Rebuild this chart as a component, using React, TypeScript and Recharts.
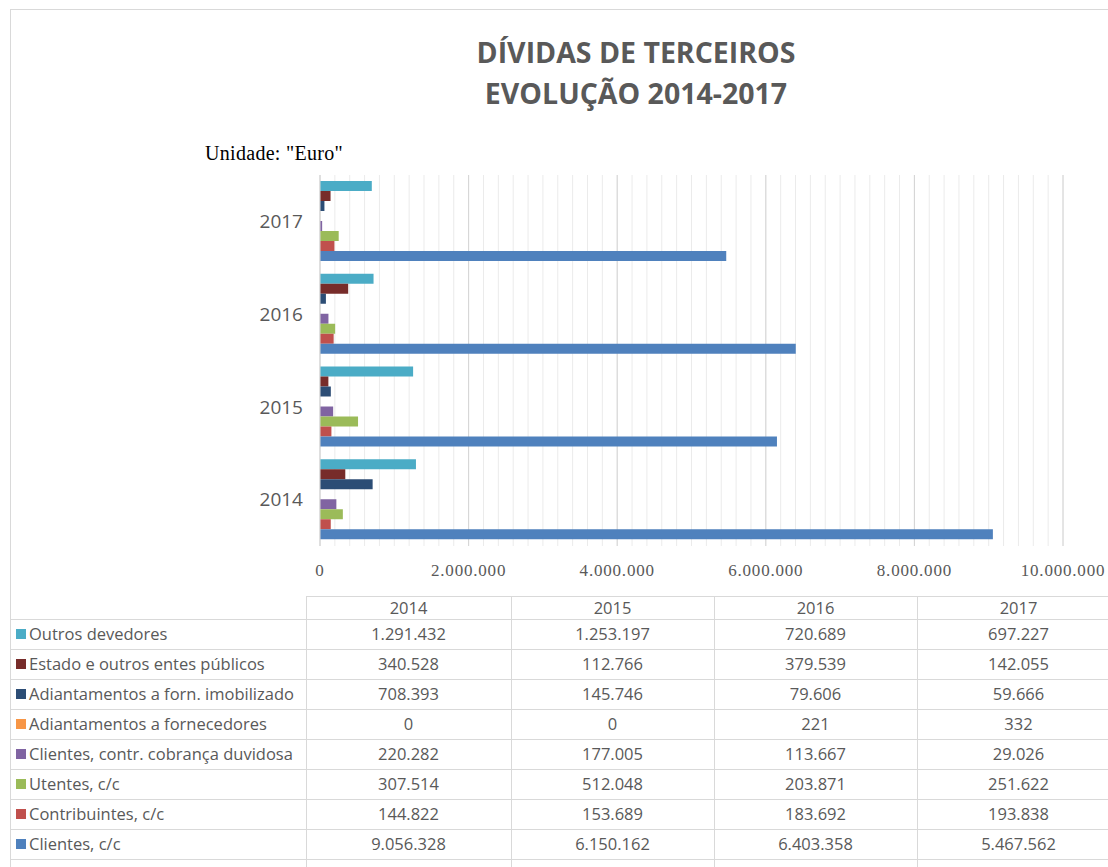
import React from "react";
import { BarChart, Bar, XAxis, YAxis, CartesianGrid } from "recharts";

const years = ["2014", "2015", "2016", "2017"];
const outrosDevedores = [1291432, 1253197, 720689, 697227];
const estado = [340528, 112766, 379539, 142055];
const adiantImob = [708393, 145746, 79606, 59666];
const adiantForn = [0, 0, 221, 332];
const clientesDuvidosa = [220282, 177005, 113667, 29026];
const utentes = [307514, 512048, 203871, 251622];
const contribuintes = [144822, 153689, 183692, 193838];
const clientes = [9056328, 6150162, 6403358, 5467562];

const xMax = 10000000;
const xTicks = [0, 2000000, 4000000, 6000000, 8000000, 10000000];
const minorStep = 200000;

const series = [
  { key: "outros", name: "Outros devedores", values: outrosDevedores, color: "#4BACC6" },
  { key: "estado", name: "Estado e outros entes públicos", values: estado, color: "#772C2A" },
  { key: "imob", name: "Adiantamentos a forn. imobilizado", values: adiantImob, color: "#2C4D75" },
  { key: "forn", name: "Adiantamentos a fornecedores", values: adiantForn, color: "#F79646" },
  { key: "duv", name: "Clientes, contr. cobrança duvidosa", values: clientesDuvidosa, color: "#8064A2" },
  { key: "utentes", name: "Utentes, c/c", values: utentes, color: "#9BBB59" },
  { key: "contrib", name: "Contribuintes, c/c", values: contribuintes, color: "#C0504D" },
  { key: "clientes", name: "Clientes, c/c", values: clientes, color: "#4F81BD" },
];

// chart categories top to bottom: 2017 ... 2014
const chartData = [...years]
  .map((y, i) => {
    const row: any = { year: y };
    series.forEach((s) => (row[s.key] = s.values[i]));
    return row;
  })
  .reverse();

const minorTicks = Array.from({ length: xMax / minorStep + 1 }, (_, i) => i * minorStep);

const fmt = (v: number) => String(v).replace(/\B(?=(\d{3})+(?!\d))/g, ".");

const minorGridGenerator = ({ xAxis, offset }: any) => {
  const sc = xAxis && xAxis.scale;
  const f =
    typeof sc === "function"
      ? (v: number) => sc(v)
      : sc && typeof sc.map === "function"
      ? (v: number) => sc.map(v)
      : (v: number) => offset.left + (v / xMax) * offset.width;
  return minorTicks.map(f);
};

const GRAY = "#595959";
const LINE = "#d9d9d9";

const colEdges = [10, 306, 511, 714, 917, 1120];
const headerTop = 596;
const headerH = 23;
const rowH = 30;
const TFONT = 16.5;

export default function App() {
  return (
    <div style={{ position: "relative", width: 1108, height: 867, overflow: "hidden", background: "#fff" }}>
      <style>{`body{margin:0;}`}</style>
      <div style={{ position: "absolute", left: 10, top: 9, width: 1200, height: 900, borderLeft: `1px solid ${LINE}`, borderTop: `1px solid ${LINE}` }} />
      <div
        style={{
          position: "absolute",
          left: 336,
          top: 32,
          width: 600,
          textAlign: "center",
          fontFamily: "'Open Sans', sans-serif",
          fontWeight: 700,
          fontSize: 28.5,
          lineHeight: "41px",
          color: GRAY,
        }}
      >
        <div>DÍVIDAS DE TERCEIROS</div>
        <div>EVOLUÇÃO 2014-2017</div>
      </div>
      <div
        style={{
          position: "absolute",
          left: 205,
          top: 142,
          fontFamily: "'Liberation Serif', 'Times New Roman', serif",
          fontSize: 20,
          letterSpacing: 0.3,
          color: "#000",
          whiteSpace: "nowrap",
        }}
      >
        Unidade: "Euro"
      </div>
      <div style={{ position: "absolute", left: 0, top: 0 }}>
        <BarChart
          width={1108}
          height={600}
          data={chartData}
          layout="vertical"
          margin={{ top: 175, right: 45, bottom: 24, left: 260 }}
          barGap={0}
          barCategoryGap={6}
        >
          <CartesianGrid horizontal={false} stroke="#ebebeb" verticalCoordinatesGenerator={minorGridGenerator} />
          <CartesianGrid horizontal={false} stroke="#d4d4d4" />
          <XAxis
            type="number"
            domain={[0, xMax]}
            ticks={xTicks}
            tickFormatter={fmt}
            axisLine={false}
            tickLine={false}
            tickMargin={12}
            height={30}
            tick={{ fill: GRAY, fontSize: 17, fontFamily: "'Liberation Serif', serif", letterSpacing: 0.8 }}
          />
          <YAxis
            type="category"
            dataKey="year"
            width={60}
            axisLine={{ stroke: LINE }}
            tickLine={false}
            tickMargin={11}
            tick={{ fill: GRAY, fontSize: 19, fontFamily: "'Open Sans', sans-serif" }}
          />
          {series.map((s) => (
            <Bar key={s.key} dataKey={s.key} name={s.name} fill={s.color} barSize={10} isAnimationActive={false} />
          ))}
        </BarChart>
      </div>
      <div style={{ position: "absolute", left: 0, top: 0, fontFamily: "'Open Sans', sans-serif", color: GRAY }}>
        <div style={{ position: "absolute", left: colEdges[1], top: headerTop, width: 900, borderTop: `1px solid ${LINE}` }} />
        {colEdges.slice(1, 5).map((x, i) => (
          <div key={"v" + i} style={{ position: "absolute", left: x, top: headerTop, height: 867 - headerTop, borderLeft: `1px solid ${LINE}` }} />
        ))}
        {series.concat([null as any]).map((_, i) => (
          <div key={"h" + i} style={{ position: "absolute", left: 10, top: headerTop + headerH + i * rowH, width: 1110, borderTop: `1px solid ${LINE}` }} />
        ))}
        {years.map((y, j) => (
          <div
            key={"hd" + y}
            style={{
              position: "absolute",
              left: colEdges[j + 1],
              width: colEdges[j + 2] - colEdges[j + 1],
              top: headerTop,
              height: headerH,
              lineHeight: headerH + "px",
              textAlign: "center",
              fontSize: TFONT,
            }}
          >
            {y}
          </div>
        ))}
        {series.map((s, i) => (
          <React.Fragment key={"r" + s.key}>
            <div
              style={{
                position: "absolute",
                left: 16,
                top: headerTop + headerH + i * rowH,
                height: rowH,
                lineHeight: rowH + "px",
                fontSize: TFONT,
                whiteSpace: "nowrap",
                display: "flex",
                alignItems: "center",
              }}
            >
              <span style={{ display: "inline-block", width: 10, height: 10, background: s.color, marginRight: 3 }} />
              <span>{s.name}</span>
            </div>
            {s.values.map((v, j) => (
              <div
                key={"c" + j}
                style={{
                  position: "absolute",
                  left: colEdges[j + 1],
                  width: colEdges[j + 2] - colEdges[j + 1],
                  top: headerTop + headerH + i * rowH,
                  height: rowH,
                  lineHeight: rowH + "px",
                  textAlign: "center",
                  fontSize: TFONT,
                }}
              >
                {fmt(v)}
              </div>
            ))}
          </React.Fragment>
        ))}
      </div>
    </div>
  );
}
